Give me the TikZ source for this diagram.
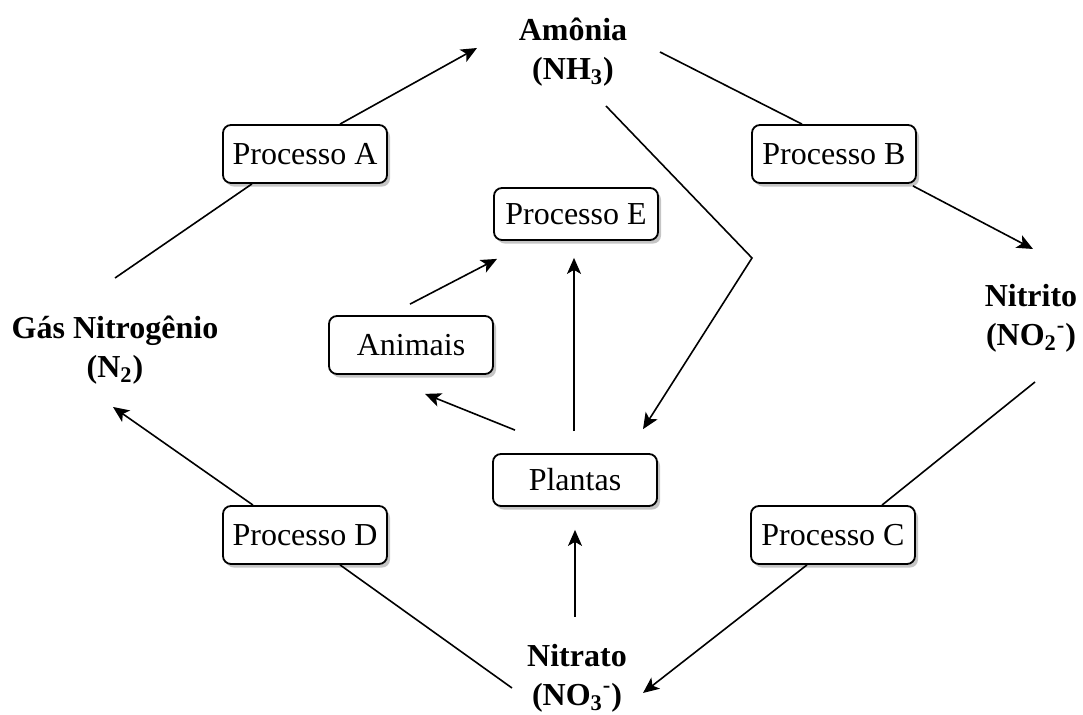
\documentclass[tikz,border=0pt]{standalone}
\usepackage{fontspec}
\setmainfont{Liberation Serif}
\usetikzlibrary{shadows,arrows.meta}

\begin{document}
\begin{tikzpicture}[x=0.5pt,y=-0.5pt]
    \tikzset{processbox/.style={
        draw, rounded corners=4pt, fill=white, line width=0.9pt,
        minimum width=82pt, minimum height=29pt, inner sep=0pt,
        drop shadow={shadow xshift=1.5pt, shadow yshift=-1.8pt, fill=black!45},
        font=\fontsize{16}{19.5}\selectfont
      },
      compound/.style={align=center, inner sep=0pt,
        font=\fontsize{16}{19.5}\selectfont\bfseries},
      flow/.style={line width=0.8pt},
      flowarrow/.style={flow, -{Stealth[length=8pt,width=7pt,inset=2pt]}}
    }

    \useasboundingbox (0,0) rectangle (1083,715);

    % compounds
    \node[compound] (amonia)  at (573,52)  {Amônia\\(NH\textsubscript{3})};
    \node[compound] (gas)     at (115,350) {Gás Nitrogênio\\(N\textsubscript{2})};
    \node[compound] (nitrito) at (1031,318) {Nitrito\\(NO\textsubscript{2}\textsuperscript{-})};
    \node[compound] (nitrato) at (577,678) {Nitrato\\(NO\textsubscript{3}\textsuperscript{-})};

    % processes
    \node[processbox] (pA) at (305,154) {Processo A};
    \node[processbox] (pB) at (834,154) {Processo B};
    \node[processbox] (pC) at (833,535) {Processo C};
    \node[processbox] (pD) at (305,535) {Processo D};
    \node[processbox, minimum height=26pt] (pE) at (576,214) {Processo E};
    \node[processbox] (animais) at (411,345) {Animais};
    \node[processbox, minimum height=26pt] (plantas) at (575,480) {Plantas};

    % free ends next to the compounds
    \coordinate (gasA)     at (115,278);
    \coordinate (amoniaA)  at (477,48);
    \coordinate (amoniaB)  at (660,52);
    \coordinate (nitritoB) at (1033,249);
    \coordinate (nitritoC) at (1035,382);
    \coordinate (nitratoC) at (643,693);
    \coordinate (nitratoD) at (512,688);
    \coordinate (gasD)     at (113,407);
    \coordinate (amoniaP)  at (606,106);
    \coordinate (bend)     at (752,258);
    \coordinate (nitratoP) at (575,617);

    % outer cycle
    \draw[flow] (gasA) -- ([shift={(-53,0)}]pA.south);
    \draw[flowarrow] ([shift={(35,0)}]pA.north) -- (amoniaA);
    \draw[flow] (amoniaB) -- ([shift={(-32,0)}]pB.north);
    \draw[flowarrow] ([shift={(-4,2)}]pB.south east) -- (nitritoB);
    \draw[flow] (nitritoC) -- ([shift={(49,0)}]pC.north);
    \draw[flowarrow] ([shift={(-26,0)}]pC.south) -- (nitratoC);
    \draw[flow] (nitratoD) -- ([shift={(35,0)}]pD.south);
    \draw[flowarrow] ([shift={(-52,0)}]pD.north) -- (gasD);

    % inner part
    \draw[flowarrow] (amoniaP) -- (bend) -- ([shift={(68,-24)}]plantas.north);
    \draw[flowarrow] (nitratoP) -- ([shift={(0,23)}]plantas.south);
    \draw[flowarrow] ([shift={(-1,-22)}]plantas.north) -- ([shift={(-2,17)}]pE.south);
    \draw[flowarrow] ([shift={(-60,-23)}]plantas.north) -- ([shift={(14,19)}]animais.south);
    \draw[flowarrow] ([shift={(-1,-11)}]animais.north) -- ([shift={(-79,18)}]pE.south);
\end{tikzpicture}
\end{document}
